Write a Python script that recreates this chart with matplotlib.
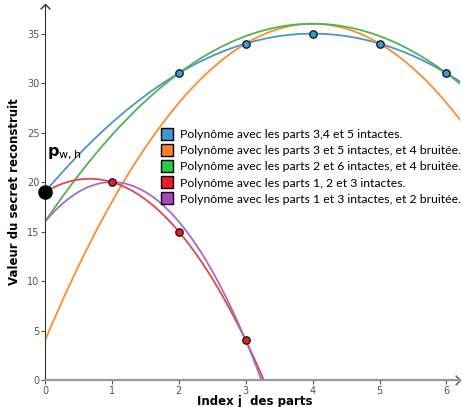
import numpy as np
import matplotlib.pyplot as plt

# polynomial coefficients (highest degree first)
poly_blue = [-1, 8, 19]        # parts 3,4,5
poly_orange = [-2, 16, 4]      # parts 3,5 + noisy 4
poly_green = [-1.25, 10, 16]   # parts 2,6 + noisy 4
poly_red = [-3, 4, 19]         # parts 1,2,3
poly_purple = [-4, 8, 16]      # parts 1,3 + noisy 2

blue_x = [2, 3, 4, 5, 6]
blue_y = [31, 34, 35, 34, 31]
red_x = [1, 2, 3]
red_y = [20, 15, 4]
secret_x = [0]
secret_y = [19]

labels = [
    "Polynôme avec les parts 3,4 et 5 intactes.",
    "Polynôme avec les parts 3 et 5 intactes, et 4 bruitée.",
    "Polynôme avec les parts 2 et 6 intactes, et 4 bruitée.",
    "Polynôme avec les parts 1, 2 et 3 intactes.",
    "Polynôme avec les parts 1 et 3 intactes, et 2 bruitée.",
]
line_colors = ["#4c95c9", "#ff8c2a", "#4fb34f", "#e0474c", "#a36bc8"]
legend_colors = ["#3b9bd0", "#ff8128", "#22cc44", "#ee1c24", "#b044c0"]

fig = plt.figure(figsize=(4.62, 4.07), dpi=100)
ax = fig.add_axes([0.0974, 0.0663, 0.898, 0.924])

xs = np.linspace(0, 6.3, 400)
for p, c in zip([poly_blue, poly_orange, poly_green, poly_red, poly_purple], line_colors):
    ax.plot(xs, np.polyval(p, xs), color=c, lw=1.3, zorder=2)

ax.scatter(blue_x, blue_y, s=28, color="#3b9bd0", edgecolor="#1a1a1a", lw=1.0, zorder=4)
ax.scatter(red_x, red_y, s=28, color="#ee1c24", edgecolor="#1a1a1a", lw=1.0, zorder=4)
ax.scatter(secret_x, secret_y, s=90, color="black", zorder=5, clip_on=False)
ax.text(0.03, 22.6, r"$\mathbf{p}_{\mathrm{w,h}}$", fontsize=11.5, color="black")

ax.set_xlim(0, 6.2)
ax.set_ylim(0, 38)
ax.set_xticks(range(7))
ax.set_yticks(range(0, 36, 5))
for s in ["top", "right"]:
    ax.spines[s].set_visible(False)
ax.spines["left"].set_color("#333333")
ax.spines["bottom"].set_color("#999999")
ax.spines["bottom"].set_linewidth(1.6)
ax.tick_params(labelsize=7, colors="#555555", length=3, pad=1)
chev_r = [(-1, 1), (0, 0), (-1, -1)]
chev_u = [(-1, -1), (0, 0), (1, -1)]
ax.plot(1, 0, marker=chev_r, color="#555555", ms=7, mfc="none", mew=1.0,
        transform=ax.transAxes, clip_on=False)
ax.plot(0, 1, marker=chev_u, color="#333333", ms=7, mfc="none", mew=1.0,
        transform=ax.transAxes, clip_on=False)

ax.set_xlabel("Index j  des parts", fontsize=8.5, fontweight="bold")
ax.xaxis.set_label_coords(0.506, -0.039)
ax.set_ylabel("Valeur du secret reconstruit", fontsize=8.5, fontweight="bold", labelpad=4)

handles = [plt.Line2D([], [], marker="s", ls="none", ms=8, mfc=c, mec="black", mew=1.0)
           for c in legend_colors]
ax.legend(handles, labels, loc="upper left", bbox_to_anchor=(0.27, 0.68), frameon=False,
          prop={"family": "Lato", "size": 8.8}, handlelength=0.8, handletextpad=0.7,
          labelspacing=0.42, borderaxespad=0)

fig.savefig("out.png", dpi=100)
